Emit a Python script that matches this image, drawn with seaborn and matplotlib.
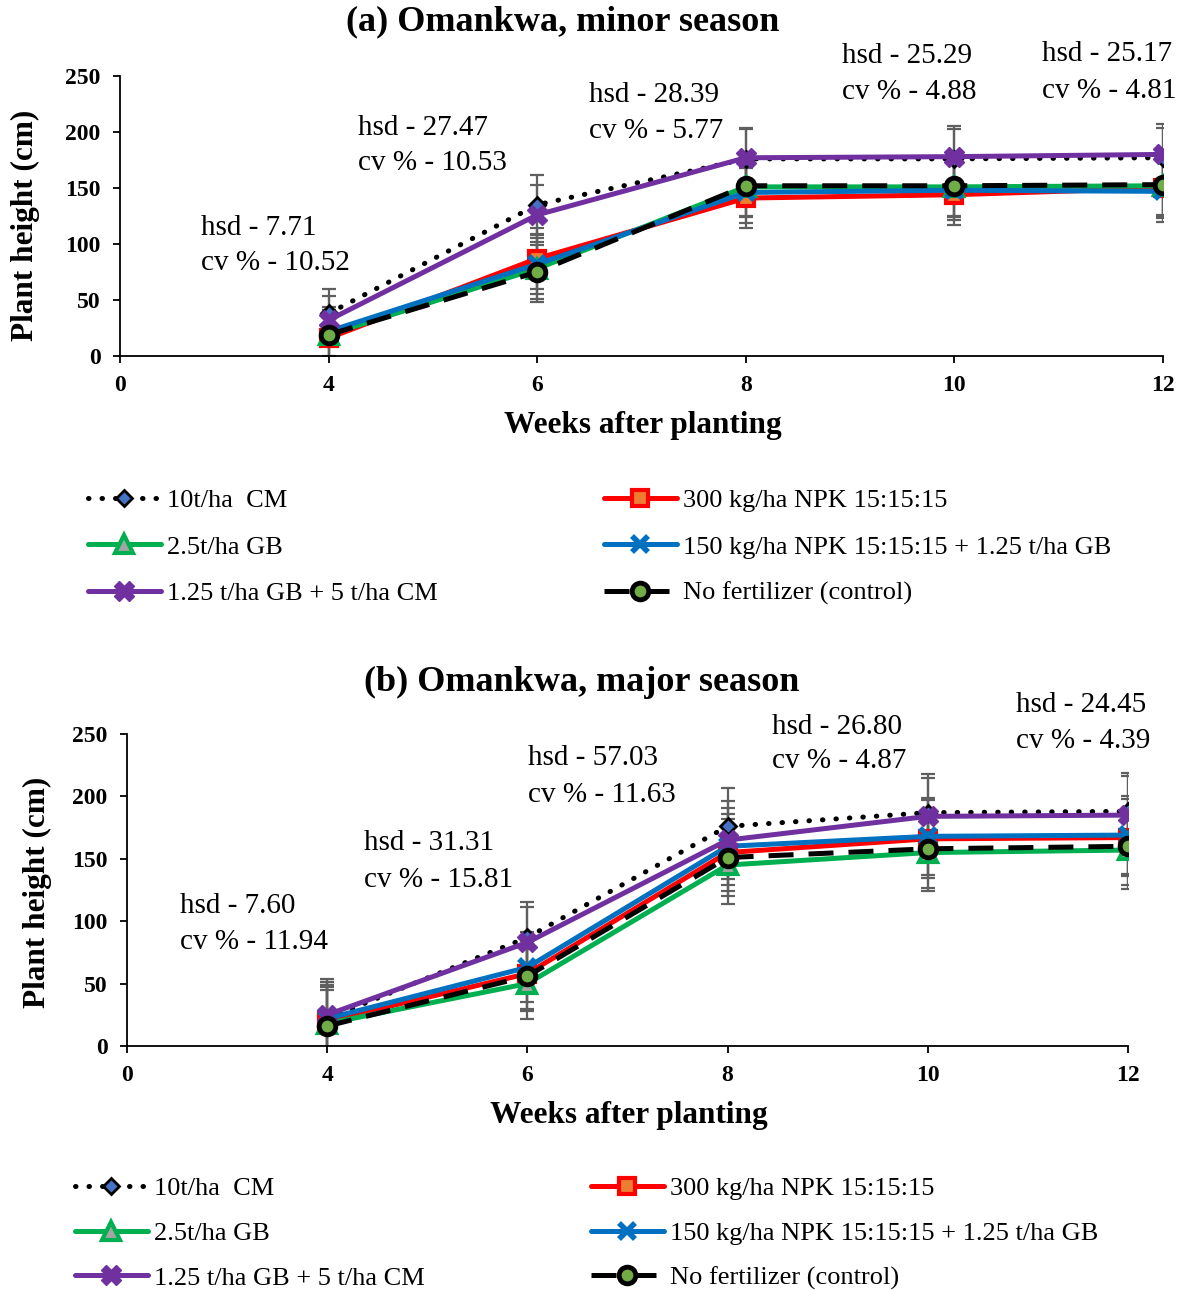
import matplotlib
matplotlib.use("Agg")
from matplotlib import pyplot as plt
import numpy as np
import pandas as pd
import seaborn as sns

# categories
weeks = [4, 6, 8, 10, 12]
tick_labels = ['0', '4', '6', '8', '10', '12']
treatments = ['10t/ha  CM', '300 kg/ha NPK 15:15:15', '2.5t/ha GB',
              '150 kg/ha NPK 15:15:15 + 1.25 t/ha GB', '1.25 t/ha GB + 5 t/ha CM',
              'No fertilizer (control)']

# (a) minor season, plant height (cm)
minor_cm = [38, 135, 176, 176, 177]
minor_npk = [16, 87, 141, 144, 150]
minor_gb = [19, 78, 151, 151, 152]
minor_npk_gb = [22, 82, 146, 148, 147]
minor_gb_cm = [32, 126, 177, 178, 180]
minor_control = [19, 75, 152, 152, 153]
minor_err = [22, 27, 27, 27, 27]
minor_hsd = ['7.71', '27.47', '28.39', '25.29', '25.17']
minor_cv = ['10.52', '10.53', '5.77', '4.88', '4.81']

# (b) major season, plant height (cm)
major_cm = [22, 87, 176, 187, 188]
major_npk = [20, 58, 155, 166, 167]
major_gb = [18, 50, 145, 155, 157]
major_npk_gb = [22, 63, 160, 168, 169]
major_gb_cm = [25, 83, 165, 184, 185]
major_control = [16, 56, 151, 158, 160]
major_err = [29, 28, 31, 31, 31]
major_hsd = ['7.60', '31.31', '57.03', '26.80', '24.45']
major_cv = ['11.94', '15.81', '11.63', '4.87', '4.39']

sns.set_style("ticks")
plt.rcParams['font.family'] = ['Liberation Serif', 'DejaVu Serif']
plt.rcParams['text.color'] = 'black'
plt.rcParams['xtick.color'] = 'black'
plt.rcParams['ytick.color'] = 'black'

styles = [
    dict(color='black', linestyle=(0, (0.1, 2.6)), dash_capstyle='round', marker='D', ms=8,
         markerfacecolor='#4472C4', markeredgecolor='black', mew=2),
    dict(color='#FF0000', linestyle='-', marker='s', ms=12,
         markerfacecolor='#ED7D31', markeredgecolor='#FF0000', mew=3),
    dict(color='#00B050', linestyle='-', marker='^', ms=13,
         markerfacecolor='#A5A5A5', markeredgecolor='#00B050', mew=3),
    dict(color='#0070C0', linestyle='-', marker='x', ms=12,
         markeredgecolor='#0070C0', mew=4),
    dict(color='#7030A0', linestyle='-', marker='X', ms=15,
         markerfacecolor='#7030A0', markeredgecolor='#7030A0', mew=1),
    dict(color='black', linestyle=(0, (5, 3)), marker='o', ms=12,
         markerfacecolor='#70AD47', markeredgecolor='black', mew=3.5),
]

W, H = 1188, 1291
fig = plt.figure(figsize=(W / 100, H / 100), dpi=100)


def draw_panel(rect, series, err, hsd, cv, notes, title, title_xy, ylab_xy, xlab_xy, leg_xy, leg_sp):
    ax = fig.add_axes(rect)
    xpos = [tick_labels.index(str(w)) for w in weeks]
    df = pd.DataFrame({'x': xpos})
    for i, (name, vals) in enumerate(zip(treatments, series)):
        df['y'] = vals
        ax.errorbar(xpos, vals, yerr=err, fmt='none', ecolor='#5f5f5f', elinewidth=1.6,
                    capsize=5, capthick=1.6, zorder=2)
        sns.lineplot(data=df, x='x', y='y', ax=ax, label=name, legend=False,
                     lw=3.6, zorder=3 + i, **styles[i])
    ax.set_xlim(0, 5)
    ax.set_ylim(0, 250)
    ax.set_xticks(range(len(tick_labels)))
    ax.set_xticklabels(tick_labels)
    ax.set_yticks(np.arange(0, 251, 50))
    ax.set_xlabel('')
    ax.set_ylabel('')
    for lab in ax.get_xticklabels() + ax.get_yticklabels():
        lab.set_fontweight('bold')
        lab.set_fontsize(17)
    ax.tick_params(axis='both', direction='out', length=5, width=1.3, color='black', pad=9)
    for side in ['top', 'right']:
        ax.spines[side].set_visible(False)
    for side in ['left', 'bottom']:
        ax.spines[side].set_linewidth(1.3)
        ax.spines[side].set_color('black')
    ax.patch.set_alpha(0)

    for (nx, ny1, ny2), h, c in zip(notes, hsd, cv):
        ax.text(nx, ny1, 'hsd - ' + h, fontsize=21, ha='left', va='center', clip_on=False)
        ax.text(nx, ny2, 'cv % - ' + c, fontsize=21, ha='left', va='center', clip_on=False)

    fig.text(title_xy[0] / W, 1 - title_xy[1] / H, title, fontsize=26, fontweight='bold',
             ha='center', va='center')
    fig.text(ylab_xy[0] / W, 1 - ylab_xy[1] / H, 'Plant height (cm)', fontsize=22.5,
             fontweight='bold', rotation=90, ha='center', va='center')
    fig.text(xlab_xy[0] / W, 1 - xlab_xy[1] / H, 'Weeks after planting', fontsize=22.5,
             fontweight='bold', ha='center', va='center')

    handles, labels = ax.get_legend_handles_labels()
    order = [0, 2, 4, 1, 3, 5]
    fig.legend([handles[k] for k in order], [labels[k] for k in order], ncol=2,
               loc='upper left', bbox_to_anchor=(leg_xy[0] / W, 1 - leg_xy[1] / H),
               frameon=False, fontsize=19, handlelength=2.75, handletextpad=0.25,
               columnspacing=6.3, labelspacing=leg_sp, borderpad=0, borderaxespad=0)
    return ax


draw_panel([120 / W, 1 - 356 / H, 1043 / W, 280 / H],
           [minor_cm, minor_npk, minor_gb, minor_npk_gb, minor_gb_cm, minor_control],
           minor_err, minor_hsd, minor_cv,
           [(0.39, 114, 83), (1.14, 204, 172), (2.25, 233, 201), (3.46, 268, 236), (4.42, 270, 237)],
           '(a) Omankwa, minor season', (563, 22), (25, 225), (643, 426), (88, 489), 0.86)

draw_panel([127 / W, 1 - 1046 / H, 1001 / W, 312 / H],
           [major_cm, major_npk, major_gb, major_npk_gb, major_gb_cm, major_control],
           major_err, major_hsd, major_cv,
           [(0.265, 112, 83), (1.185, 163, 133), (2.005, 231, 201), (3.22, 256, 228), (4.44, 273, 244)],
           '(b) Omankwa, major season', (582, 682), (37, 892), (629, 1115), (75, 1177), 0.8)

fig.savefig('out.png', dpi=100)
